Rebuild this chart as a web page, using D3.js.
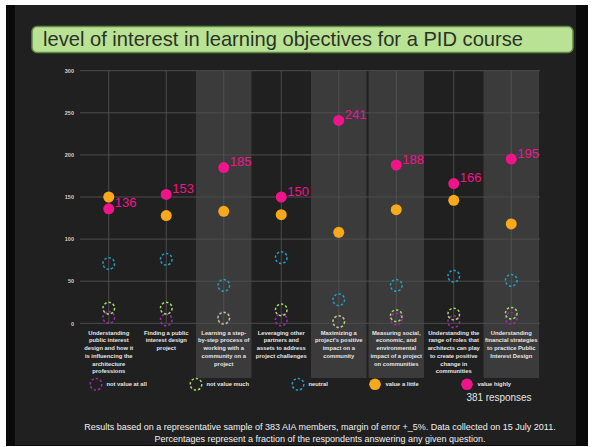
<!DOCTYPE html>
<html><head><meta charset="utf-8">
<script src="https://cdn.jsdelivr.net/npm/d3@7"></script>
<style>html,body{margin:0;padding:0;background:#fff;}svg{display:block;}</style>
</head><body>
<svg id="c" width="592" height="447"></svg>
<script>
const title = "level of interest in learning objectives for a PID course";
const categories = [
  ["Understanding","public interest","design and how it","is influencing the","architecture","professions"],
  ["Finding a public","interest design","project"],
  ["Learning a step-","by-step process of","working with a","community on a","project"],
  ["Leveraging other","partners and","assets to address","project challenges"],
  ["Maximizing a","project's positive","impact on a","community"],
  ["Measuring social,","economic, and","environmental","impact of a project","on communities"],
  ["Understanding the","range of roles that","architects can play","to create positive","change in","communities"],
  ["Understanding","financial strategies","to practice Public","Interest Design"]
];
const seriesNames = ["not value at all","not value much","neutral","value a little","value highly"];
const notValueAtAll = [7, 4, 7, 4, 2, 5, 2, 6];
const notValueMuch  = [18, 18, 6, 16, 2, 9, 11, 12];
const neutral       = [71, 76, 45, 78, 28, 45, 56, 51];
const valueALittle  = [150, 128, 133, 129, 108, 135, 146, 118];
const valueHighly   = [136, 153, 185, 150, 241, 188, 166, 195];
const yTicks = [0, 50, 100, 150, 200, 250, 300];
const shadedColumns = [2, 4, 5, 7];
const responsesLabel = "381 responses";
const footer = [
  "Results based on a representative sample of 383 AIA members, margin of error +_5%.  Data collected on 15 July 2011.",
  "Percentages represent a fraction of the respondents answering any given question."
];

const colors = ["#9a2ea8", "#a6d66c", "#1f9fc8", "#f7a81b", "#f0148a"];
const dashed = [true, true, true, false, false];
const series = [notValueAtAll, notValueMuch, neutral, valueALittle, valueHighly];

const svg = d3.select("#c");
// frame
svg.append("rect").attr("x",6).attr("y",5).attr("width",582).attr("height",441).attr("fill","#0a0a0a");
svg.append("rect").attr("x",15).attr("y",5).attr("width",561).attr("height",440).attr("fill","#202020");

// title
svg.append("rect").attr("x",32).attr("y",26.5).attr("width",541).attr("height",26).attr("rx",5)
  .attr("fill","#b9e295").attr("stroke","#5e8a45").attr("stroke-width",1.5);
svg.append("text").attr("x",43).attr("y",46).text(title)
  .attr("font-family","Liberation Sans, Arial, sans-serif").attr("font-size",21)
  .attr("fill","#2b3328").attr("textLength",480).attr("lengthAdjust","spacingAndGlyphs");

const x = d3.scaleBand().domain(d3.range(categories.length)).range([80, 540]);
const y = d3.scaleLinear().domain([0, 300]).range([323.3, 70.7]);

// shaded panels
svg.append("g").selectAll("rect").data(shadedColumns).join("rect")
  .attr("x", d => x(d) + 1).attr("width", x.bandwidth() - 2)
  .attr("y", y(300)).attr("height", 378 - y(300)).attr("fill", "#3b3b3b");

// grid
const grid = svg.append("g");
grid.selectAll("line.h").data(yTicks).join("line")
  .attr("x1", 80).attr("x2", 540).attr("y1", d => y(d)).attr("y2", d => y(d))
  .attr("stroke", "#4d4d4d").attr("stroke-width", 1);
grid.selectAll("line.v").data(d3.range(categories.length)).join("line")
  .attr("x1", d => x(d) + x.bandwidth()/2).attr("x2", d => x(d) + x.bandwidth()/2)
  .attr("y1", y(300)).attr("y2", y(0))
  .attr("stroke", "#555").attr("stroke-width", 0.8);

// y axis
const yAxis = d3.axisLeft(y).tickValues(yTicks).tickSize(0).tickPadding(0);
const ya = svg.append("g").attr("transform","translate(74,0)").call(yAxis);
ya.select(".domain").remove();
ya.selectAll("text").attr("fill","#d0d0d0").attr("font-size",5.5)
  .attr("font-family","Liberation Sans, Arial, sans-serif").attr("font-weight","bold");

// category labels
const cl = svg.append("g");
categories.forEach((lines, i) => {
  const t = cl.append("text").attr("text-anchor","middle")
    .attr("font-family","Liberation Sans, Arial, sans-serif").attr("font-size",5.8)
    .attr("font-weight","bold").attr("fill","#e6e6e6");
  lines.forEach((ln, j) => {
    t.append("tspan").attr("x", x(i) + x.bandwidth()/2).attr("y", 334.7 + j*7.7).text(ln);
  });
});

// points
const cx = i => x(i) + x.bandwidth()/2;
series.forEach((vals, s) => {
  const g = svg.append("g");
  g.selectAll("circle").data(vals).join("circle")
    .attr("cx", (d,i) => cx(i)).attr("cy", d => y(d))
    .attr("r", dashed[s] ? 5.8 : 5.5)
    .attr("fill", dashed[s] ? "none" : colors[s])
    .attr("stroke", dashed[s] ? colors[s] : "none")
    .attr("stroke-width", 1.5)
    .attr("stroke-dasharray", dashed[s] ? "2.4,2" : null);
});
svg.append("g").selectAll("text").data(valueHighly).join("text")
  .attr("x", (d,i) => cx(i) + 6).attr("y", d => y(d) - 1.5)
  .text(d => d).attr("fill", colors[4])
  .attr("font-family","Liberation Sans, Arial, sans-serif").attr("font-size",13);

// legend
const legendX = [96, 196, 298, 375, 467];
const lg = svg.append("g");
seriesNames.forEach((n, s) => {
  lg.append("circle").attr("cx", legendX[s]).attr("cy", 384.3).attr("r", 5.8)
    .attr("fill", dashed[s] ? "none" : colors[s])
    .attr("stroke", dashed[s] ? colors[s] : "none").attr("stroke-width", 1.5)
    .attr("stroke-dasharray", dashed[s] ? "2.4,2" : null);
  lg.append("text").attr("x", legendX[s] + 10.5).attr("y", 386.3).text(n)
    .attr("font-family","Liberation Sans, Arial, sans-serif").attr("font-size",5.8)
    .attr("font-weight","bold").attr("fill","#e6e6e6");
});
svg.append("text").attr("x", 466.5).attr("y", 401).text(responsesLabel)
  .attr("font-family","Liberation Sans, Arial, sans-serif").attr("font-size",10.5)
  .attr("fill","#e6e6e6").attr("textLength",65).attr("lengthAdjust","spacingAndGlyphs");

// footer
svg.append("g").selectAll("text").data(footer).join("text")
  .attr("x", 320).attr("y", (d,i) => 430 + i*12).attr("text-anchor","middle").text(d => d)
  .attr("font-family","Liberation Sans, Arial, sans-serif").attr("font-size",9)
  .attr("fill","#f0f0f0");
</script>
</body></html>
